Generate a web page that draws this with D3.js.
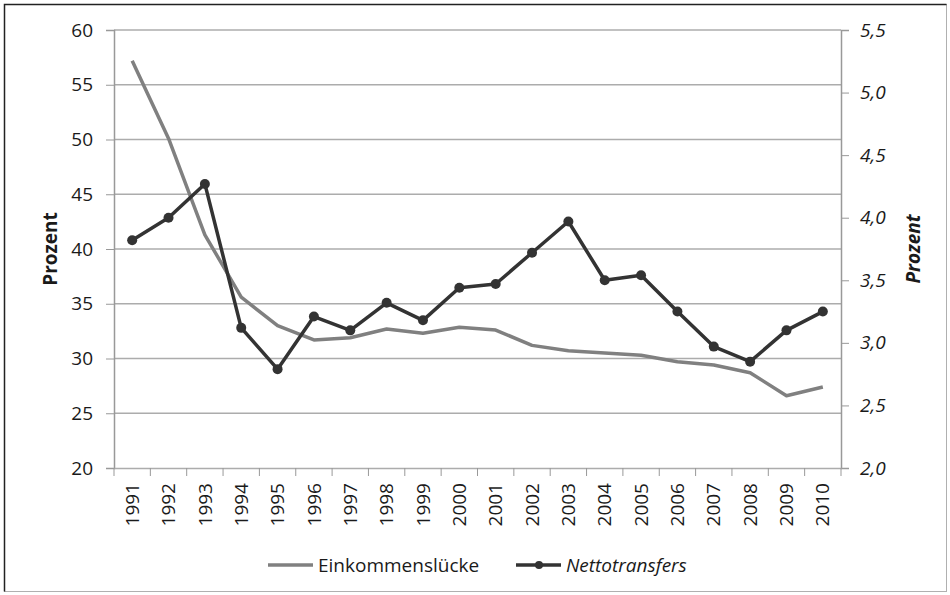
<!DOCTYPE html>
<html>
<head>
<meta charset="utf-8">
<script src="https://cdn.jsdelivr.net/npm/d3@7"></script>
<style>
  body { margin: 0; background: #fff; }
  text { font-family: "Open Sans", sans-serif; fill: #1a1a1a; }
</style>
</head>
<body>
<svg class="chart" width="950" height="595"></svg>
<script>
var years = ["1991","1992","1993","1994","1995","1996","1997","1998","1999","2000",
             "2001","2002","2003","2004","2005","2006","2007","2008","2009","2010"];
var einkommensluecke = [57.2, 50.1, 41.3, 35.6, 33.0, 31.7, 31.9, 32.7, 32.3, 32.85,
                        32.6, 31.2, 30.7, 30.5, 30.3, 29.7, 29.4, 28.7, 26.6, 27.4];
var nettotransfers = [3.82, 4.00, 4.27, 3.12, 2.79, 3.21, 3.10, 3.32, 3.18, 3.44,
                      3.47, 3.72, 3.97, 3.50, 3.54, 3.25, 2.97, 2.85, 3.10, 3.25];
var leftTicks = [20, 25, 30, 35, 40, 45, 50, 55, 60];
var rightTicks = [2.0, 2.5, 3.0, 3.5, 4.0, 4.5, 5.0, 5.5];

var width = 950,
    height = 595;
var m = {left: 114, right: 841, top: 30, bottom: 468};
var fs = "19px";

var svg = d3.select(".chart");

// frame
svg.append("rect")
    .attr("x", 4.5).attr("y", 4.5)
    .attr("width", 942).attr("height", 587)
    .attr("fill", "none")
    .attr("stroke", "#b0b0b0");
svg.append("path")
    .attr("d", "M4.5,591.5V4.5H946.5")
    .attr("fill", "none")
    .attr("stroke", "#222")
    .attr("stroke-width", 1.5);

var x = d3.scaleBand().domain(years).range([m.left, m.right]);
var yL = d3.scaleLinear().domain([20, 60]).range([m.bottom, m.top]);
var yR = d3.scaleLinear().domain([2.0, 5.5]).range([m.bottom, m.top]);

// gridlines
svg.append("g").selectAll("line")
    .data(leftTicks.slice(1))
    .enter().append("line")
    .attr("x1", m.left).attr("x2", m.right)
    .attr("y1", function(d) { return yL(d); })
    .attr("y2", function(d) { return yL(d); })
    .attr("stroke", "#acacac")
    .attr("stroke-width", 1.5);

// left axis
var axL = svg.append("g")
    .attr("transform", "translate(" + m.left + ",0)")
    .call(d3.axisLeft(yL).tickValues(leftTicks).tickSize(8).tickPadding(13));
axL.selectAll("text").style("font-size", fs);

// right axis
var axR = svg.append("g")
    .attr("transform", "translate(" + m.right + ",0)")
    .call(d3.axisRight(yR).tickValues(rightTicks).tickSize(8).tickPadding(11)
      .tickFormat(function(d) { return d3.format(".1f")(d).replace(".", ","); }));
axR.selectAll("text").style("font-size", fs).style("font-style", "italic");

// x axis
var axX = svg.append("g")
    .attr("transform", "translate(0," + m.bottom + ")")
    .call(d3.axisBottom(x).tickSize(0).tickPadding(0));
axX.selectAll("text")
    .style("font-size", fs)
    .attr("transform", "rotate(-90)")
    .attr("text-anchor", "end")
    .attr("dy", "0.35em")
    .attr("x", -15)
    .attr("y", 0);
// tick marks at band edges
svg.append("g").selectAll("line")
    .data(years.concat([""]))
    .enter().append("line")
    .attr("x1", function(d, i) { return m.left + i * x.bandwidth(); })
    .attr("x2", function(d, i) { return m.left + i * x.bandwidth(); })
    .attr("y1", m.bottom).attr("y2", m.bottom + 8)
    .attr("stroke", "#999");

[axL, axR, axX].forEach(function(a) {
  a.selectAll(".domain").attr("stroke", "#999").attr("stroke-width", 1.5);
  a.selectAll(".tick line").attr("stroke", "#999");
});
axX.select(".domain").attr("stroke", "#acacac");

// axis titles
svg.append("text")
    .attr("transform", "translate(50," + ((m.top + m.bottom) / 2) + ") rotate(-90)")
    .attr("text-anchor", "middle")
    .attr("dy", "0.35em")
    .style("font-size", fs)
    .style("font-weight", "bold")
    .text("Prozent");
svg.append("text")
    .attr("transform", "translate(913," + ((m.top + m.bottom) / 2) + ") rotate(-90)")
    .attr("text-anchor", "middle")
    .attr("dy", "0.35em")
    .style("font-size", fs)
    .style("font-weight", "bold")
    .style("font-style", "italic")
    .text("Prozent");

var cx = function(d, i) { return x(years[i]) + x.bandwidth() / 2; };

// Einkommensluecke
svg.append("path")
    .datum(einkommensluecke)
    .attr("fill", "none")
    .attr("stroke", "#808080")
    .attr("stroke-width", 3.5)
    .attr("stroke-linejoin", "round")
    .attr("d", d3.line().x(cx).y(function(d) { return yL(d); }));

// Nettotransfers
svg.append("path")
    .datum(nettotransfers)
    .attr("fill", "none")
    .attr("stroke", "#333")
    .attr("stroke-width", 3.5)
    .attr("stroke-linejoin", "round")
    .attr("d", d3.line().x(cx).y(function(d) { return yR(d); }));
svg.append("g").selectAll("circle")
    .data(nettotransfers)
    .enter().append("circle")
    .attr("cx", cx)
    .attr("cy", function(d) { return yR(d); })
    .attr("r", 5)
    .attr("fill", "#333");

// legend
var lg = svg.append("g").attr("transform", "translate(0,565)");
lg.append("line").attr("x1", 268).attr("x2", 313).attr("y1", 0).attr("y2", 0)
    .attr("stroke", "#808080").attr("stroke-width", 3.5);
lg.append("text").attr("x", 318).attr("y", 0).attr("dy", "0.35em")
    .style("font-size", fs).text("Einkommenslücke");
lg.append("line").attr("x1", 516).attr("x2", 561).attr("y1", 0).attr("y2", 0)
    .attr("stroke", "#333").attr("stroke-width", 3.5);
lg.append("circle").attr("cx", 539).attr("cy", 0).attr("r", 4).attr("fill", "#333");
lg.append("text").attr("x", 566).attr("y", 0).attr("dy", "0.35em")
    .style("font-size", fs).style("font-style", "italic").text("Nettotransfers");
</script>
</body>
</html>
